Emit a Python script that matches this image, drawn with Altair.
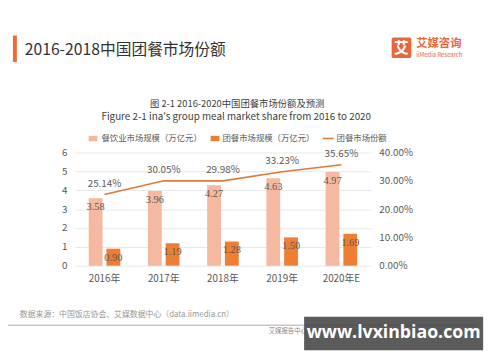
import altair as alt
import pandas as pd

years = ["2016年", "2017年", "2018年", "2019年", "2020年E"]
catering = [3.58, 3.96, 4.27, 4.63, 4.97]
group_meal = [0.90, 1.19, 1.28, 1.50, 1.69]
share = [0.2514, 0.3005, 0.2998, 0.3323, 0.3565]
series_names = ["餐饮业市场规模（万亿元）", "团餐市场规模（万亿元）"]
share_name = "团餐市场份额"

FONT = "Noto Sans CJK SC"
LIGHT = "#F5B8A0"
DARK = "#EE7E33"
LINE = "#E07A3A"
LBL = "#595959"

rows = []
for i, y in enumerate(years):
    rows.append({"year": y, "series": series_names[0], "value": catering[i]})
    rows.append({"year": y, "series": series_names[1], "value": group_meal[i]})
bars_df = pd.DataFrame(rows)
share_df = pd.DataFrame({"year": years, "share": share})

W, H = 301, 115

xenc = alt.X("year:N", sort=years, scale=alt.Scale(paddingInner=0, paddingOuter=0),
             axis=alt.Axis(title=None, labelAngle=0, ticks=False, domain=False,
                           labelColor=LBL, labelFontSize=10, labelFont=FONT, labelPadding=8))
yleft = alt.Y("value:Q", scale=alt.Scale(domain=[0, 6], nice=False),
              axis=alt.Axis(title=None, values=[0, 1, 2, 3, 4, 5, 6], ticks=False, domain=False,
                            labelColor=LBL, labelFontSize=10, labelFont=FONT, labelPadding=8,
                            labelOverlap=False, gridColor="#E8E8E8", gridWidth=1))
xoff = alt.XOffset("series:N", sort=series_names,
                   scale=alt.Scale(paddingInner=0.222, paddingOuter=0.778))

bars = alt.Chart(bars_df).mark_bar().encode(
    x=xenc, y=yleft, xOffset=xoff,
    color=alt.Color("series:N", sort=series_names,
                    scale=alt.Scale(domain=series_names, range=[LIGHT, DARK]), legend=None),
)
bar_labels = alt.Chart(bars_df).mark_text(baseline="middle", dy=9, fontSize=10.5,
                                          font="Liberation Serif", color=LBL).encode(
    x=xenc, y=yleft, xOffset=xoff,
    text=alt.Text("value:Q", format=".2f"),
)
left = alt.layer(bars, bar_labels)

yright = alt.Y("share:Q", scale=alt.Scale(domain=[0, 0.4], nice=False),
               axis=alt.Axis(title=None, orient="right", values=[0, 0.1, 0.2, 0.3, 0.4],
                             format=".2%", ticks=False, domain=False, grid=False,
                             labelOverlap=False,
                             labelColor=LBL, labelFontSize=10, labelFont=FONT, labelPadding=8))
line = alt.Chart(share_df).mark_line(color=LINE, strokeWidth=1.6).encode(x=xenc, y=yright)
pct_labels = alt.Chart(share_df).mark_text(baseline="middle", dy=-11, fontSize=10, font=FONT,
                                           color=LBL).encode(
    x=xenc, y=yright, text=alt.Text("share:Q", format=".2%"))
right = alt.layer(line, pct_labels)

one = pd.DataFrame({"k": [0]})


def txt(s, x, y, size, color, align="left", weight="normal", font=FONT):
    return alt.Chart(one).mark_text(text=s, align=align, baseline="middle", fontSize=size,
                                    color=color, fontWeight=weight, font=font).encode(
        x=alt.value(x), y=alt.value(y))


def rect(x, x2, y, y2, color, r=0, opacity=1):
    return alt.Chart(one).mark_rect(color=color, cornerRadius=r, opacity=opacity).encode(
        x=alt.value(x), x2=alt.value(x2), y=alt.value(y), y2=alt.value(y2))


def rule(x, x2, y, color, w=1):
    return alt.Chart(one).mark_rule(color=color, strokeWidth=w).encode(
        x=alt.value(x), x2=alt.value(x2), y=alt.value(y))


deco = [
    rect(-63, -59, -119, -92, "#F26A33"),
    txt("2016-2018中国团餐市场份额", -51, -104, 16, "#333333"),
    rect(322, 342, -117, -96, "#E9673B", 2),
    txt("艾", 332, -106.5, 15, "white", align="center", weight="bold"),
    txt("艾媒咨询", 347, -110, 11.5, "#E9673B", weight="bold"),
    txt("iiMedia Research", 347, -99, 6, "#E9673B"),
    txt("图 2-1 2016-2020中国团餐市场份额及预测", 165, -49.5, 9.5, "#404040", align="center"),
    txt("Figure 2-1 ina's group meal market share from 2016 to 2020", 164, -36.5, 10, "#404040",
        align="center"),
    rect(14, 23, -17, -11.5, LIGHT),
    txt(series_names[0], 27, -14.3, 8.5, LBL),
    rect(138, 147, -17, -11.5, DARK),
    txt(series_names[1], 150, -14.3, 8.5, LBL),
    rule(252, 263, -14.3, LINE, 1.6),
    txt(share_name, 266, -14.3, 8.5, LBL),
    txt("数据来源：中国饭店协会、艾媒数据中心（data.iimedia.cn）", -56, 165, 8, "#999999"),
    rule(-76, 409, 175.5, "#AAAAAA", 1),
    txt("艾媒报告中心 report.iimedia.cn ©2019 iiMedia Research Inc", 197, 181, 6.5, "#888888"),
    rect(233, 415, 167, 201, "#404040", 0, 0.86),
    txt("www.lvxinbiao.com", 324, 184, 18, "white", align="center", weight="bold",
        font="Open Sans"),
]

chart = alt.layer(left, right, *deco).resolve_scale(y="independent").properties(
    width=W, height=H,
    autosize=alt.AutoSizeParams(type="none"),
    padding={"left": 68, "top": 144, "right": 123, "bottom": 95},
    background="white",
).configure_view(stroke=None)

chart.save("out.html", embed_options={"renderer": "svg", "actions": False})
